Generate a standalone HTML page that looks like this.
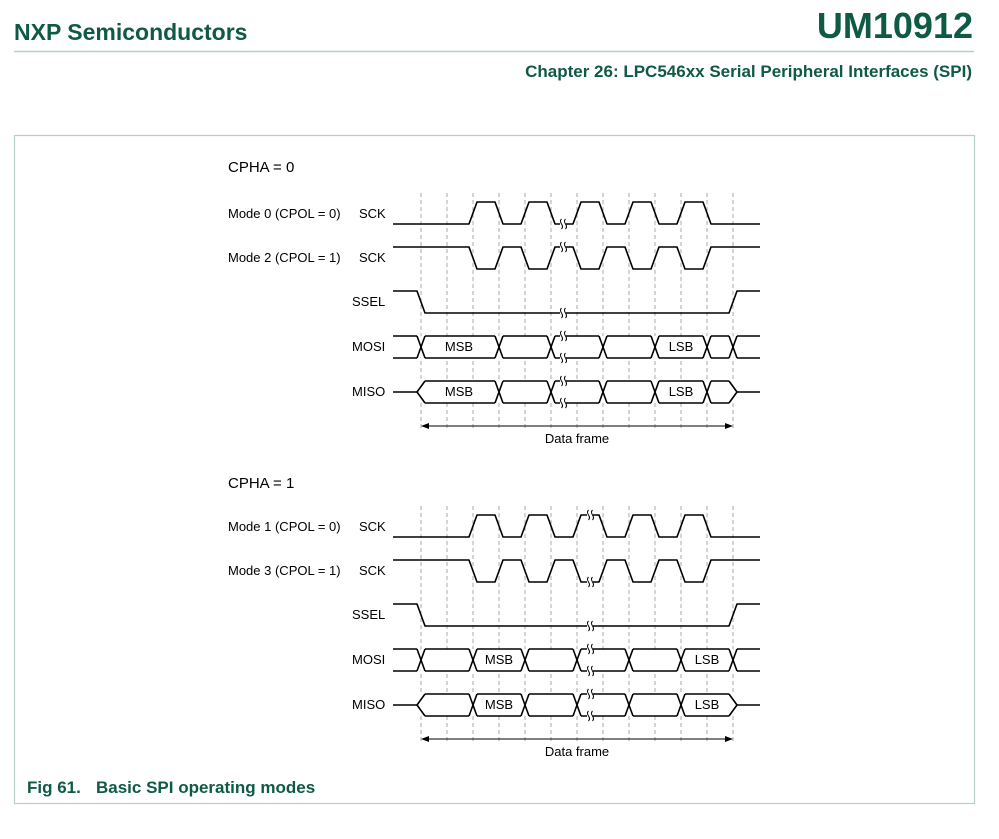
<!DOCTYPE html>
<html><head><meta charset="utf-8"><style>
html,body{margin:0;padding:0;background:#fff;}
svg{display:block;}
text{font-family:"Liberation Sans",sans-serif;}
</style></head><body>
<svg id="s" width="999" height="839" viewBox="0 0 999 839" xmlns="http://www.w3.org/2000/svg">
<text x="14" y="40" font-size="23" font-weight="bold" fill="#0f5a45">NXP Semiconductors</text>
<text x="973" y="38" font-size="36" font-weight="bold" fill="#0f5a45" text-anchor="end">UM10912</text>
<line x1="14" y1="51.5" x2="974" y2="51.5" stroke="#b8d0c6" stroke-width="1.5"/>
<text x="972" y="77" font-size="17" font-weight="bold" fill="#0f5a45" text-anchor="end">Chapter 26: LPC546xx Serial Peripheral Interfaces (SPI)</text>
<rect x="14.5" y="135.5" width="960" height="668" fill="none" stroke="#b8d0c6" stroke-width="1.2"/>
<text x="27" y="793" font-size="17" font-weight="bold" fill="#0f5a45">Fig 61.</text>
<text x="96" y="793" font-size="17" font-weight="bold" fill="#0f5a45">Basic SPI operating modes</text>
<g id="dash"></g>
<g id="fillg" fill="#fff" stroke="none"></g>
<g id="w" fill="none" stroke="#000" stroke-width="1.6" stroke-linejoin="round"></g>
<g font-size="13" fill="#000">
<text x="228" y="172" font-size="15">CPHA = 0</text>
<text x="228" y="218">Mode 0 (CPOL = 0)</text><text x="359" y="218">SCK</text>
<text x="228" y="262">Mode 2 (CPOL = 1)</text><text x="359" y="262">SCK</text>
<text x="352" y="306">SSEL</text>
<text x="352" y="351">MOSI</text>
<text x="352" y="396">MISO</text>
<text x="459" y="351" text-anchor="middle">MSB</text>
<text x="681" y="351" text-anchor="middle">LSB</text>
<text x="459" y="396" text-anchor="middle">MSB</text>
<text x="681" y="396" text-anchor="middle">LSB</text>
<text x="577" y="443" text-anchor="middle">Data frame</text>

<text x="228" y="488" font-size="15">CPHA = 1</text>
<text x="228" y="531">Mode 1 (CPOL = 0)</text><text x="359" y="531">SCK</text>
<text x="228" y="575">Mode 3 (CPOL = 1)</text><text x="359" y="575">SCK</text>
<text x="352" y="619">SSEL</text>
<text x="352" y="664">MOSI</text>
<text x="352" y="709">MISO</text>
<text x="499" y="664" text-anchor="middle">MSB</text>
<text x="707" y="664" text-anchor="middle">LSB</text>
<text x="499" y="709" text-anchor="middle">MSB</text>
<text x="707" y="709" text-anchor="middle">LSB</text>
<text x="577" y="756" text-anchor="middle">Data frame</text>
</g>
</svg>
<script>
var ns="http://www.w3.org/2000/svg",g=document.getElementById("w"),dg=document.getElementById("dash"),fg=document.getElementById("fillg");
function P(d,extra,parent){var p=document.createElementNS(ns,"path");p.setAttribute("d",d);if(extra)for(var k in extra)p.setAttribute(k,extra[k]);(parent||g).appendChild(p);return p;}
function L(x1,y1,x2,y2,o,par){return P("M"+x1+" "+y1+"L"+x2+" "+y2,o,par);}
function brk(x,y){
 P("M"+(x-1.5)+" "+(y-5)+"q-2 2 0 5q2 3 0 5",{ "stroke-width":"1"});
 P("M"+(x+2.5)+" "+(y-5)+"q-2 2 0 5q2 3 0 5",{ "stroke-width":"1"});
}
function draw(off,bx){
 for(var k=0;k<13;k++){var x=421+26*k;L(x,193+off,x,429+off,{stroke:"#aaa","stroke-width":"1","stroke-dasharray":"4 3"},dg);}
 var edges=[473,499,525,551,577,603,629,655,681,707];
 [[202,224,false],[247,269,true]].forEach(function(c){
  var hi=c[0]+off,lo=c[1]+off,st=c[2];
  var cur=st?hi:lo,d="M393 "+cur;
  edges.forEach(function(e){var ny=cur==hi?lo:hi;d+="L"+(e-4)+" "+cur+"L"+(e+4)+" "+ny;cur=ny;});
  d+="L760 "+cur;
  P(d);
  var lvl=st?hi:lo;edges.forEach(function(e){if(e<bx)lvl=(lvl==hi?lo:hi);});
  P("M"+(bx-3)+" "+lvl+"L"+(bx+3)+" "+lvl,{stroke:"#fff","stroke-width":"4"});
  brk(bx,lvl);
 });
 var sh=291+off,sl=313+off;
 P("M393 "+sh+"L417 "+sh+"L425 "+sl+"L729 "+sl+"L737 "+sh+"L760 "+sh);
 P("M"+(bx-3)+" "+sl+"L"+(bx+3)+" "+sl,{stroke:"#fff","stroke-width":"4"});brk(bx,sl);
}
function bus(t,b,cross,bx,isMiso,first,last){
 var m=(t+b)/2;
 P("M"+(first-4)+" "+m+"L"+first+" "+t+"L"+last+" "+t+"L"+(last+4)+" "+m+"L"+last+" "+b+"L"+first+" "+b+"Z",{},fg);
 if(isMiso){L(393,m,first-4,m);L(first-4,m,first+4,t);L(first-4,m,first+4,b);}
 else{L(393,t,first-4,t);L(393,b,first-4,b);L(first-4,t,first+4,b);L(first-4,b,first+4,t);}
 var all=[first].concat(cross).concat([last]);
 for(var i=0;i<all.length-1;i++){L(all[i]+4,t,all[i+1]-4,t);L(all[i]+4,b,all[i+1]-4,b);}
 cross.forEach(function(c){L(c-4,t,c+4,b);L(c-4,b,c+4,t);});
 if(isMiso){L(last-4,t,last+4,m);L(last-4,b,last+4,m);L(last+4,m,760,m);}
 else{L(last-4,t,last+4,b);L(last-4,b,last+4,t);L(last+4,t,760,t);L(last+4,b,760,b);}
 [t,b].forEach(function(y){P("M"+(bx-3)+" "+y+"L"+(bx+3)+" "+y,{stroke:"#fff","stroke-width":"4"});brk(bx,y);});
}
function arrow(y){
 L(425,y,729,y,{"stroke-width":"1"});
 P("M421 "+y+"l8 -3l0 6z",{fill:"#000",stroke:"none"});
 P("M733 "+y+"l-8 -3l0 6z",{fill:"#000",stroke:"none"});
}
draw(0,563);
bus(336,358,[499,551,603,655,707],563,false,421,733);
bus(381,403,[499,551,603,655,707],563,true,421,733);
arrow(426);
draw(313,590);
bus(649,671,[473,525,577,629,681],590,false,421,733);
bus(694,716,[473,525,577,629,681],590,true,421,733);
arrow(739);
</script>
</body></html>
